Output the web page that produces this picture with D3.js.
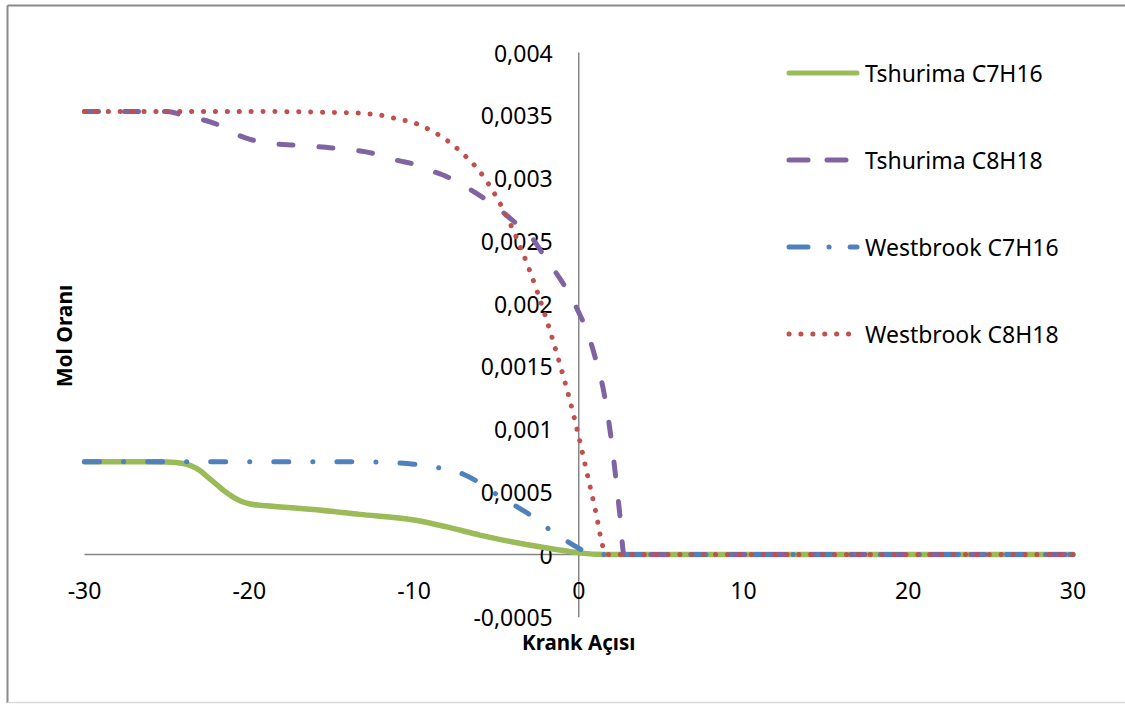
<!DOCTYPE html>
<html>
<head>
<meta charset="utf-8">
<script src="https://cdn.jsdelivr.net/npm/d3@7"></script>
<style>
  html, body { margin: 0; padding: 0; background: #fff; }
  svg { display: block; }
  text { font-family: "Noto Sans", "Open Sans", sans-serif; fill: #000; }
</style>
</head>
<body>
<svg id="chart" width="1125" height="704"></svg>
<script>
// Mole fraction vs crank angle for two fuel components and two mechanisms
const seriesNames = ["Tshurima C7H16", "Tshurima C8H18", "Westbrook C7H16", "Westbrook C8H18"];

// [crank angle (deg), mole fraction]
const tshurimaC7H16 = [
  [-30, 0.00074], [-26, 0.00074], [-25, 0.000738], [-24, 0.000725], [-23.5, 0.000705],
  [-23, 0.00067], [-22.5, 0.000615], [-22, 0.00056], [-21.5, 0.000505], [-21, 0.00046],
  [-20.5, 0.000425], [-20, 0.000405], [-19.5, 0.000394], [-19, 0.000388], [-16.3, 0.00036],
  [-13.3, 0.00032], [-10, 0.000275], [-8, 0.00022], [-6, 0.000155], [-4, 0.0001],
  [-2.35, 0.000062], [0, 0.000015], [1, 0.000002], [2, 0], [5, 0], [10, 0], [15, 0],
  [20, 0], [25, 0], [30, 0]
];
const tshurimaC8H18 = [
  [-30, 0.00353], [-25, 0.00353], [-24, 0.0035], [-23, 0.00347], [-22, 0.00343],
  [-21, 0.00336], [-20, 0.00331], [-19, 0.00328], [-17, 0.00326], [-15, 0.00324],
  [-13, 0.00321], [-12, 0.00318], [-11, 0.00314], [-10, 0.00311], [-9, 0.00306],
  [-8, 0.00301], [-7, 0.00294], [-6, 0.00286], [-5, 0.00277], [-4, 0.00266],
  [-3, 0.00255], [-2, 0.00236], [-1, 0.00217], [-0.5, 0.00206], [0, 0.00193],
  [0.5, 0.00178], [1, 0.00157], [1.5, 0.00131], [2, 0.00089], [2.25, 0.00061],
  [2.5, 0.00031], [2.75, 0], [5, 0], [10, 0], [15, 0], [20, 0], [25, 0], [30, 0]
];
const westbrookC7H16 = [
  [-30, 0.00074], [-20, 0.00074], [-14, 0.00074], [-12, 0.000735], [-10, 0.00072],
  [-9, 0.0007], [-8, 0.00068], [-7, 0.00064], [-6, 0.00057], [-5, 0.00048],
  [-4, 0.0004], [-3, 0.00032], [-2, 0.00022], [-1, 0.00013], [0, 0.00005],
  [0.6, 0.00001], [1, 0], [5, 0], [10, 0], [15, 0], [20, 0], [25, 0], [30, 0]
];
const westbrookC8H18 = [
  [-30, 0.00353], [-20, 0.00353], [-14, 0.00352], [-12, 0.0035], [-11, 0.00347],
  [-10, 0.00344], [-9, 0.00338], [-8, 0.0033], [-7, 0.00319], [-6, 0.00305],
  [-5, 0.00285], [-4, 0.00259], [-3, 0.00227], [-2, 0.00189], [-1, 0.00145],
  [-0.5, 0.00121], [0, 0.00094], [0.5, 0.00065], [1, 0.00036], [1.5, 0.00005],
  [1.7, 0], [5, 0], [10, 0], [15, 0], [20, 0], [25, 0], [30, 0]
];

const xTicks = [-30, -20, -10, 0, 10, 20, 30];
const yTicks = [-0.0005, 0, 0.0005, 0.001, 0.0015, 0.002, 0.0025, 0.003, 0.0035, 0.004];
const xTitle = "Krank Açısı";
const yTitle = "Mol Oranı";

const svg = d3.select("#chart");

// chart frame
svg.append("line").attr("x1", 7.5).attr("y1", 5.5).attr("x2", 7.5).attr("y2", 703)
  .attr("stroke", "#8a8a8a").attr("stroke-width", 2);
svg.append("line").attr("x1", 7.5).attr("y1", 5.5).attr("x2", 1125).attr("y2", 5.5)
  .attr("stroke", "#8a8a8a").attr("stroke-width", 2);
svg.append("line").attr("x1", 7.5).attr("y1", 702.5).attr("x2", 1125).attr("y2", 702.5)
  .attr("stroke", "#d9d9d9").attr("stroke-width", 1.5);

const x = d3.scaleLinear().domain([-30, 30]).range([84.5, 1073]);
const y = d3.scaleLinear().domain([-0.0005, 0.004]).range([617.3, 52.5]);

// decimal comma, plain hyphen for negatives
const fmt = v => {
  if (v === 0) return "0";
  return String(+v.toPrecision(2)).replace(".", ",").replace("\u2212", "-");
};

// axis lines through the origin
svg.append("line")
  .attr("x1", x(-30)).attr("x2", x(30) + 2).attr("y1", y(0)).attr("y2", y(0))
  .attr("stroke", "#868686").attr("stroke-width", 1.5);
svg.append("line")
  .attr("x1", x(0)).attr("x2", x(0)).attr("y1", y(0.004)).attr("y2", y(-0.0005))
  .attr("stroke", "#868686").attr("stroke-width", 1.5);

// tick labels
svg.append("g").selectAll("text").data(yTicks).join("text")
  .attr("x", x(0) - 26).attr("y", d => y(d))
  .attr("text-anchor", "end").attr("dominant-baseline", "central")
  .style("font-size", "23px")
  .text(d => fmt(d));

svg.append("g").selectAll("text").data(xTicks).join("text")
  .attr("x", d => x(d)).attr("y", 590)
  .attr("text-anchor", "middle").attr("dominant-baseline", "central")
  .style("font-size", "23px")
  .text(d => String(d));

// axis titles
svg.append("text")
  .attr("x", x(0)).attr("y", 650)
  .attr("text-anchor", "middle")
  .style("font-size", "20.5px").style("font-weight", "bold")
  .text(xTitle);
svg.append("text")
  .attr("transform", "translate(72,336) rotate(-90)")
  .attr("text-anchor", "middle")
  .style("font-size", "21px").style("font-weight", "bold")
  .text(yTitle);

// series styles
const styles = [
  { color: "#9BBB59", dash: null, width: 5.5 },
  { color: "#8064A2", dash: "14,26", width: 5 },
  { color: "#4F81BD", dash: "15,24,0.1,24", width: 5 },
  { color: "#C0504D", dash: "0.1,11.8", width: 5 }
];
const allSeries = [tshurimaC7H16, tshurimaC8H18, westbrookC7H16, westbrookC8H18];

const line = d3.line()
  .x(d => x(d[0]))
  .y(d => y(d[1]))
  .curve(d3.curveMonotoneX);

const g = svg.append("g");
allSeries.forEach((data, i) => {
  g.append("path")
    .datum(data)
    .attr("d", line)
    .attr("fill", "none")
    .attr("stroke", styles[i].color)
    .attr("stroke-width", styles[i].width)
    .attr("stroke-linecap", "round")
    .attr("stroke-linejoin", "round")
    .attr("stroke-dasharray", styles[i].dash);
});

// legend
const legendY = [73, 160, 247, 334];
const legend = svg.append("g");
seriesNames.forEach((name, i) => {
  legend.append("line")
    .attr("x1", 789).attr("x2", 857)
    .attr("y1", legendY[i]).attr("y2", legendY[i])
    .attr("stroke", styles[i].color)
    .attr("stroke-width", 5)
    .attr("stroke-linecap", "round")
    .attr("stroke-dasharray", i === 1 ? "19,19" : i === 2 ? "19,21,0.1,21" : styles[i].dash);
  legend.append("text")
    .attr("x", 865).attr("y", legendY[i])
    .attr("dominant-baseline", "central")
    .style("font-size", "23px")
    .text(name);
});
</script>
</body>
</html>
